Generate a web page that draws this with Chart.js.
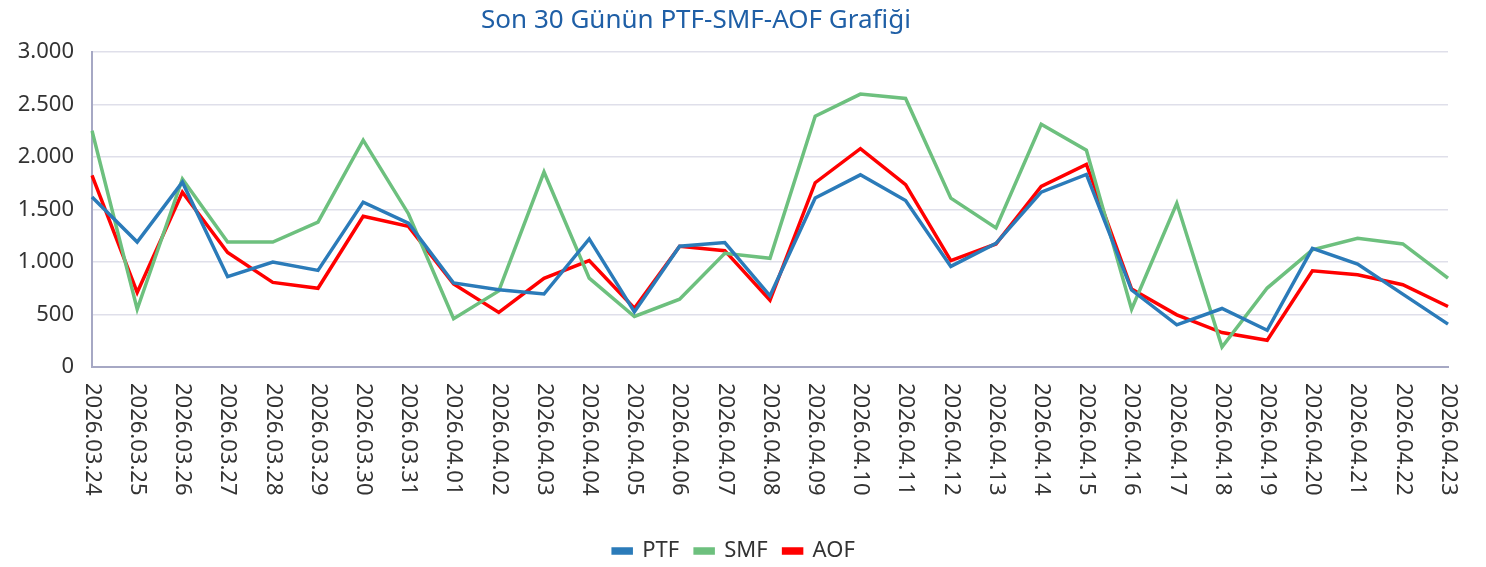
<!DOCTYPE html>
<html>
<head>
<meta charset="utf-8">
<script src="https://cdn.jsdelivr.net/npm/chart.js@4.4.1/dist/chart.umd.min.js"></script>
<style>
  html, body { margin: 0; padding: 0; background: #fff; }
  #wrap { width: 1486px; height: 567px; }
</style>
</head>
<body>
<div id="wrap"><canvas id="chart"></canvas></div>
<script>
// Data
const dates = [
  '2026.03.24', '2026.03.25', '2026.03.26', '2026.03.27', '2026.03.28', '2026.03.29', '2026.03.30', '2026.03.31',
  '2026.04.01', '2026.04.02', '2026.04.03', '2026.04.04', '2026.04.05', '2026.04.06', '2026.04.07', '2026.04.08',
  '2026.04.09', '2026.04.10', '2026.04.11', '2026.04.12', '2026.04.13', '2026.04.14', '2026.04.15', '2026.04.16',
  '2026.04.17', '2026.04.18', '2026.04.19', '2026.04.20', '2026.04.21', '2026.04.22', '2026.04.23'
];
const ptf = [1620, 1190, 1760, 860, 1000, 920, 1570, 1370, 800, 735, 695, 1220, 525, 1150, 1185,
  678, 1610, 1830, 1586, 958, 1178, 1665, 1834, 733, 401, 557, 350, 1130, 981, 694, 408];
const smf = [2250, 550, 1790, 1190, 1190, 1380, 2160, 1460, 460, 725, 1857, 847, 481, 646, 1083,
  1035, 2388, 2599, 2558, 1608, 1325, 2312, 2064, 551, 1560, 191, 752, 1115, 1226, 1172, 847];
const aof = [1825, 710, 1665, 1090, 806, 750, 1436, 1340, 790, 520, 844, 1013, 560, 1150, 1108,
  637, 1755, 2080, 1736, 1013, 1172, 1720, 1930, 742, 497, 328, 255, 917, 879, 783, 576];
const yTicks = [0, 500, 1000, 1500, 2000, 2500, 3000];

const titleText = 'Son 30 Günün PTF-SMF-AOF Grafiği';
const fontFamily = '"Noto Sans", "Open Sans", sans-serif';

// Title drawn at its own spot
const titlePlugin = {
  id: 'customTitle',
  afterDraw(chart) {
    const ctx = chart.ctx;
    ctx.save();
    ctx.font = '26px ' + fontFamily;
    ctx.fillStyle = '#1f5fa6';
    ctx.textAlign = 'center';
    ctx.textBaseline = 'middle';
    ctx.fillText(titleText, 696, 21);
    ctx.restore();
  }
};

// X labels rotated clockwise (top to bottom)
const xLabelPlugin = {
  id: 'xLabels',
  afterDraw(chart) {
    const scale = chart.scales.x;
    const ctx = chart.ctx;
    ctx.save();
    ctx.font = '22px ' + fontFamily;
    ctx.fillStyle = '#333333';
    ctx.textAlign = 'left';
    ctx.textBaseline = 'middle';
    dates.forEach((d, i) => {
      const x = scale.getPixelForTick(i);
      ctx.save();
      ctx.translate(x, scale.top + 16);
      ctx.rotate(Math.PI / 2);
      ctx.fillText(d, 0, 0);
      ctx.restore();
    });
    ctx.restore();
  }
};

const gridColor = '#dfdfea';
const axisColor = '#a6a8c4';

new Chart(document.getElementById('chart'), {
  type: 'line',
  data: {
    labels: dates,
    datasets: [
      { label: 'PTF', data: ptf, borderColor: '#2b7bb9', backgroundColor: '#2b7bb9' },
      { label: 'SMF', data: smf, borderColor: '#6dc07e', backgroundColor: '#6dc07e' },
      { label: 'AOF', data: aof, borderColor: '#ff0000', backgroundColor: '#ff0000' }
    ]
  },
  options: {
    responsive: true,
    maintainAspectRatio: false,
    animation: false,
    elements: {
      line: { borderWidth: 3.5, tension: 0 },
      point: { radius: 0, hoverRadius: 0 }
    },
    layout: { padding: { top: 52, left: 0, right: 18, bottom: -5 } },
    scales: {
      x: {
        offset: false,
        grid: { display: false },
        border: { display: true, color: axisColor, width: 2 },
        ticks: { display: false },
        afterFit(s) { s.height = 157; }
      },
      y: {
        min: 0,
        max: 3000,
        afterBuildTicks(s) { s.ticks = yTicks.map(v => ({ value: v })); },
        grid: { color: gridColor, lineWidth: 1.5, drawTicks: false },
        border: { display: true, color: axisColor, width: 2 },
        ticks: {
          padding: 18,
          color: '#333333',
          font: { size: 22, family: fontFamily },
          callback: v => v.toString().replace(/\B(?=(\d{3})+(?!\d))/g, '.')
        },
        afterFit(s) { s.width = 92; }
      },
      // empty spacer on the right so the legend sits where the original does
      spacer: {
        type: 'linear',
        position: 'right',
        display: true,
        grid: { display: false },
        border: { display: false },
        ticks: { display: false },
        afterFit(s) { s.width = 20; }
      }
    },
    plugins: {
      title: { display: false },
      tooltip: { enabled: false },
      legend: {
        position: 'bottom',
        labels: {
          boxWidth: 18,
          boxHeight: 4,
          padding: 16,
          color: '#333333',
          font: { size: 22, family: fontFamily }
        }
      }
    }
  },
  plugins: [titlePlugin, xLabelPlugin]
});
</script>
</body>
</html>
